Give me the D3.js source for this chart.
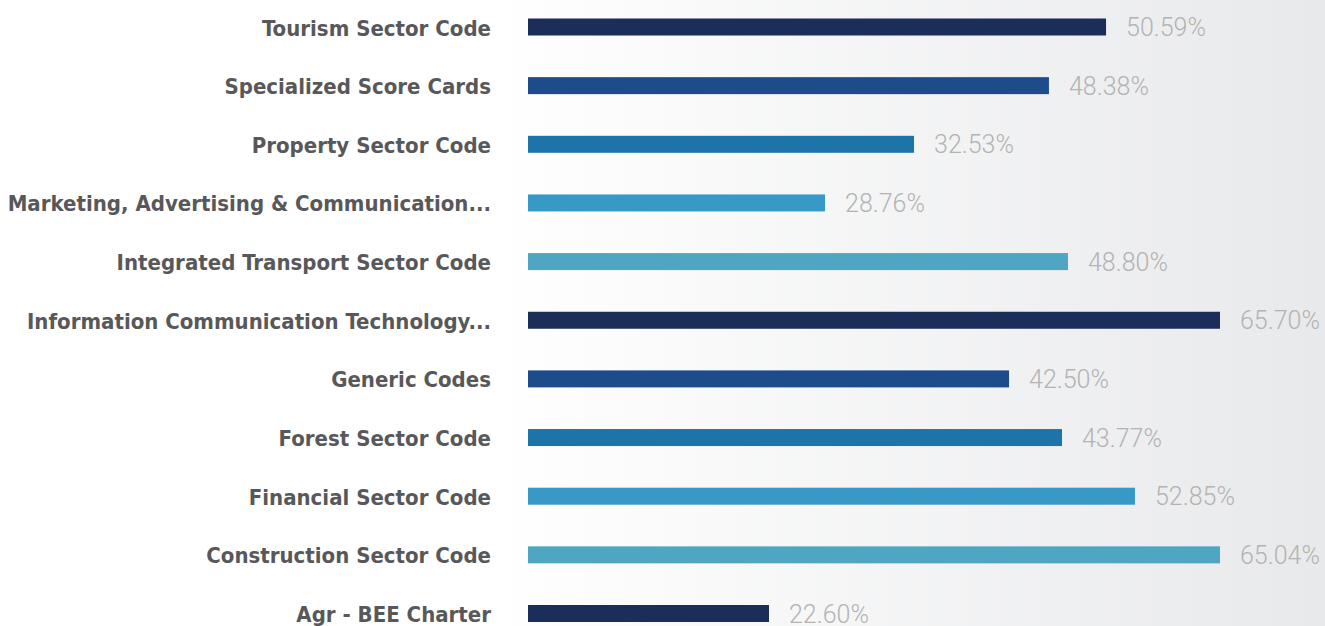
<!DOCTYPE html>
<html>
<head>
<meta charset="utf-8">
<script src="https://cdn.jsdelivr.net/npm/d3@7"></script>
<style>
  html, body { margin: 0; padding: 0; overflow: hidden; }
  svg { display: block; }
</style>
</head>
<body>
<svg id="chart" width="1325" height="626"></svg>
<script>
// Categories, top to bottom
const categories = [
  "Tourism Sector Code",
  "Specialized Score Cards",
  "Property Sector Code",
  "Marketing, Advertising & Communication...",
  "Integrated Transport Sector Code",
  "Information Communication Technology...",
  "Generic Codes",
  "Forest Sector Code",
  "Financial Sector Code",
  "Construction Sector Code",
  "Agr - BEE Charter"
];
// Printed value labels (%)
const valueLabels = [50.59, 48.38, 32.53, 28.76, 48.80, 65.70, 42.50, 43.77, 52.85, 65.04, 22.60];
// Bar lengths as drawn in the picture (%, same unit as the longest bar = 65.70)
const barValues = [54.88, 49.46, 36.65, 28.20, 51.27, 65.70, 45.67, 50.70, 57.63, 65.70, 22.88];
// Bar colour cycle
const palette = ["#1b2d59", "#1e4c8b", "#1c74a8", "#3899c6", "#4ea6c3"];

const svg = d3.select("#chart");
const W = 1325, H = 626;

// background gradient
const defs = svg.append("defs");
const grad = defs.append("linearGradient").attr("id", "bg")
  .attr("x1", "0%").attr("x2", "100%").attr("y1", "0%").attr("y2", "0%");
grad.append("stop").attr("offset", "0%").attr("stop-color", "#ffffff");
grad.append("stop").attr("offset", "37%").attr("stop-color", "#ffffff");
grad.append("stop").attr("offset", "100%").attr("stop-color", "#e8e9eb");
svg.append("rect").attr("width", W).attr("height", H).attr("fill", "url(#bg)");

const x = d3.scaleLinear().domain([0, 65.70]).range([528, 1220]);
const y = d3.scalePoint().domain(categories).range([27, 613.5]).padding(0);
const barH = 17;

const rows = categories.map((c, i) => ({ c, i, v: barValues[i], lab: valueLabels[i] }));

const g = svg.append("g");

g.selectAll("rect.bar").data(rows).enter().append("rect")
  .attr("class", "bar")
  .attr("x", x(0))
  .attr("y", d => y(d.c) - barH / 2)
  .attr("width", d => x(d.v) - x(0))
  .attr("height", barH)
  .attr("fill", d => palette[d.i % palette.length]);

g.selectAll("text.cat").data(rows).enter().append("text")
  .attr("class", "cat")
  .attr("x", 491)
  .attr("y", d => y(d.c) + 8.5)
  .attr("text-anchor", "end")
  .style("font-family", "'DejaVu Sans', sans-serif")
  .style("font-stretch", "condensed")
  .style("font-weight", "bold")
  .style("font-size", "22px")
  .style("fill", "#58585a")
  .text(d => d.c);

g.selectAll("text.val").data(rows).enter().append("text")
  .attr("class", "val")
  .attr("x", d => x(d.v) + 20)
  .attr("y", d => y(d.c) + 9)
  .style("font-family", "Roboto, 'Liberation Sans', sans-serif")
  .style("font-weight", "300")
  .style("font-size", "25px")
  .style("fill", "#b3b3b3")
  .text(d => d.lab.toFixed(2) + "%");
</script>
</body>
</html>
